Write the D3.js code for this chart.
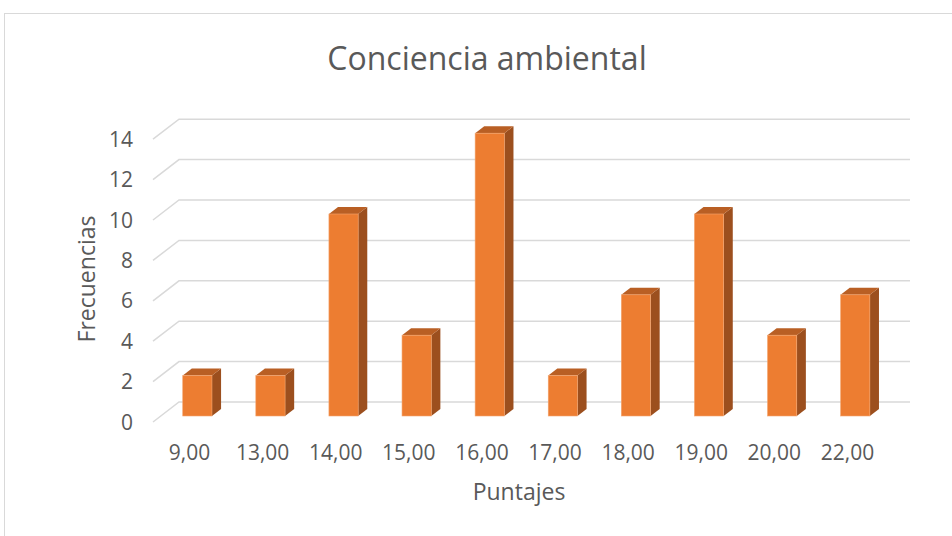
<!DOCTYPE html>
<html><head><meta charset="utf-8">
<script src="https://cdn.jsdelivr.net/npm/d3@7"></script>
<style>body{margin:0;background:#fff}svg{display:block}text{font-family:"Open Sans",sans-serif;fill:#595959}</style>
</head><body><svg id="c" width="952" height="536"></svg>
<script>
const categories = ["9,00","13,00","14,00","15,00","16,00","17,00","18,00","19,00","20,00","22,00"];
const frecuencias = [2,2,10,4,14,2,6,10,4,6];
const yTicks = [0,2,4,6,8,10,12,14];
const title = "Conciencia ambiental";
const xTitle = "Puntajes";
const yTitle = "Frecuencias";

const svg = d3.select("#c");
const DX = 26, DY = -20;           // depth offset front→back
const x = d3.scaleBand().domain(categories).range([153, 884]).paddingInner(0.6).paddingOuter(0.3);
const y = d3.scaleLinear().domain([0, 14]).range([422, 139.2]);
const P = (xv, yv, z) => [xv + z * DX, y(yv) + z * DY];

// chart border
svg.append("rect").attr("x", 4.5).attr("y", 13.5).attr("width", 1000).attr("height", 600)
  .attr("fill", "none").attr("stroke", "#d9d9d9").attr("stroke-width", 1);

// gridlines (diagonal + back wall)
const g = svg.append("g").attr("stroke", "#d9d9d9").attr("stroke-width", 1.5).attr("fill", "none");
yTicks.forEach(v => {
  const a = P(153, v, 0), b = P(153, v, 1), c = P(884, v, 1);
  g.append("path").attr("d", `M${a}L${b}L${c}`);
});

// y tick labels
svg.append("g").selectAll("text").data(yTicks).join("text")
  .attr("x", 133).attr("y", d => y(d)).attr("dy", "0.36em").attr("text-anchor", "end")
  .attr("font-size", 21).text(d => d);

// x tick labels
svg.append("g").selectAll("text").data(categories).join("text")
  .attr("x", d => x(d) + x.bandwidth() / 2).attr("y", 460).attr("text-anchor", "middle")
  .attr("font-size", 21).text(d => d);

// bars
const z0 = 0.3, z1 = 0.65;
const bars = svg.append("g");
categories.forEach((cat, i) => {
  const v = frecuencias[i];
  const xl = x(cat), xr = x(cat) + x.bandwidth();
  const poly = pts => "M" + pts.map(p => p.join(",")).join("L") + "Z";
  bars.append("path").attr("d", poly([P(xr, 0, z0), P(xr, 0, z1), P(xr, v, z1), P(xr, v, z0)]))
    .attr("fill", "#9c4f1e");
  bars.append("path").attr("d", poly([P(xl, v, z0), P(xl, v, z1), P(xr, v, z1), P(xr, v, z0)]))
    .attr("fill", "#b95f24");
  const f0 = P(xl, v, z0), f1 = P(xr, 0, z0);
  bars.append("rect").attr("x", f0[0]).attr("y", f0[1]).attr("width", f1[0] - f0[0]).attr("height", f1[1] - f0[1])
    .attr("fill", "#ed7d31").attr("stroke", "#f4a56e").attr("stroke-width", 0.6);
});

// titles
svg.append("text").attr("x", 487).attr("y", 70).attr("text-anchor", "middle").attr("font-size", 32).text(title);
svg.append("text").attr("x", 519).attr("y", 500).attr("text-anchor", "middle").attr("font-size", 23).text(xTitle);
svg.append("text").attr("transform", "translate(95,279) rotate(-90)").attr("text-anchor", "middle")
  .attr("font-size", 23).text(yTitle);
</script></body></html>
